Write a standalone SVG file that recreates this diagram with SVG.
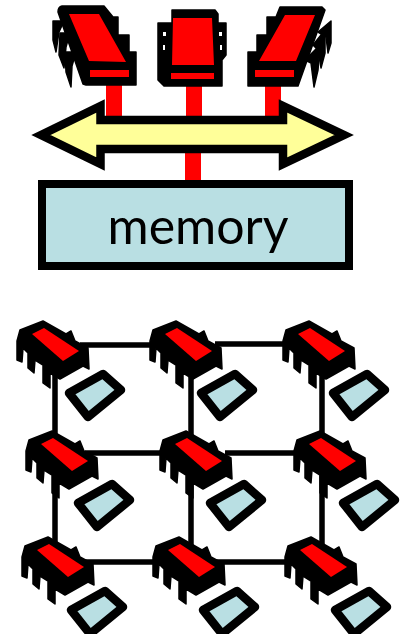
<svg xmlns="http://www.w3.org/2000/svg" xmlns:xlink="http://www.w3.org/1999/xlink" width="401" height="634" viewBox="0 0 401 634">
<style>
.k{fill:#000;stroke:#000;stroke-width:1.500;stroke-linejoin:round}
.r{fill:#f00}
.w{fill:#fff}
.m{fill:#b9dfe3;stroke:#000;stroke-width:8.500;stroke-linejoin:round}
.l{fill:none;stroke:#000;stroke-width:5.500}
.s{fill:#f00}
</style>
<defs>
<g id="chip">
<path class="k" d="M20 330L43 321L66 334L71 331L75 341L88 348L89 369L83 366L60 379L50 373L50 388L43 383L43 365L35 360L34 373L28 368L28 353L23 348L22 362L17 360L17 341Z"/>
<path class="r" d="M32 334L44 328L79 351L63 361Z"/>
</g>
<path id="mem" class="m" d="M69 393L103 374L121 390L88 417Z"/>
</defs>
<g id="connectors">
<rect class="s" x="106" y="84" width="16" height="34"/>
<rect class="s" x="186" y="84" width="16" height="34"/>
<rect class="s" x="265" y="84" width="16" height="34"/>
<rect class="s" x="185" y="152" width="16" height="30"/>
<path class="l" d="M80 345H160M215 344H290M85 453H165M225 453H300M80 562H160M215 562H290M55 370V440M55 470V545M191 370V440M191 470V545M322 370V440M322 470V545"/>
</g>
<g id="cpu-top-1">
<path class="k" d="M58 12Q58 7 62 6H104L113 17H118V35H129V52H136V85H86L83 84Z"/>
<path class="k" d="M53 21H64L59 32L56 52L53 40Z"/>
<path class="k" d="M60 33H70L66 47L64 68L59 55Z"/>
<path class="k" d="M65 52H76L72 66L71 87L66 72Z"/>
<path class="r" d="M69 14H99L126 62L89 61ZM90 70H129V77H90Z"/>
</g>
<g id="cpu-top-2">
<path class="k" d="M172 10H215L218 14V23H226V55L222 60V86H164L158 80V23H172Z"/>
<path class="w" d="M163 32h3v4h-3zM163 45h2v5h-2zM219 32h3v4h-3zM220 45h2v5h-2z"/>
<path class="r" d="M173 18H212L214 65H172ZM171 73H214V79H171Z"/>
</g>
<g id="cpu-top-3">
<path class="k" d="M248 52H257V35H267V17H276L280 7H322L325 10L298 86H248Z"/>
<path class="k" d="M331 21V43L328 53L326 37L318 32Z"/>
<path class="k" d="M325 30V53L321 68L318 50L313 45Z"/>
<path class="k" d="M320 45L318 70L314 87L311 63L305 60Z"/>
<path class="r" d="M285 15H315L296 61H259ZM255 70H294V77H255Z"/>
</g>
<g id="bus">
<path d="M41 135L100.500 106V120H283V106L344 135L283 164V149H100.500V164Z" fill="#ffff99" stroke="#000" stroke-width="8.500" stroke-miterlimit="6"/>
</g>
<g id="memory">
<rect x="42" y="184" width="307" height="82" fill="#b9dfe3" stroke="#000" stroke-width="8"/>
<text x="198" y="244" text-anchor="middle" font-family="Lato, 'Open Sans', sans-serif" font-size="50" fill="#000">memory</text>
</g>
<g id="chip-1-1"><use href="#chip"/><use href="#mem"/></g>
<g id="chip-1-2"><use href="#chip" x="133"/><use href="#mem" x="132"/></g>
<g id="chip-1-3"><use href="#chip" x="266"/><use href="#mem" x="264"/></g>
<g id="chip-2-1"><use href="#chip" x="9" y="110"/><use href="#mem" x="9" y="110"/></g>
<g id="chip-2-2"><use href="#chip" x="143" y="110"/><use href="#mem" x="141" y="110"/></g>
<g id="chip-2-3"><use href="#chip" x="277" y="110"/><use href="#mem" x="274" y="110"/></g>
<g id="chip-3-1"><use href="#chip" x="5" y="216"/><use href="#mem" x="2" y="217"/></g>
<g id="chip-3-2"><use href="#chip" x="136" y="216"/><use href="#mem" x="134" y="217"/></g>
<g id="chip-3-3"><use href="#chip" x="268" y="216"/><use href="#mem" x="266" y="217"/></g>
</svg>
